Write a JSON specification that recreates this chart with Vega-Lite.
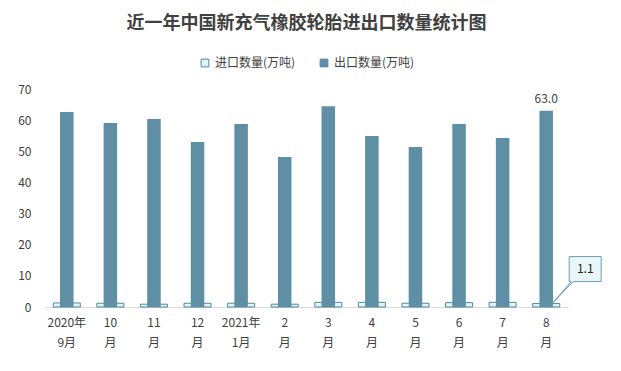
{
  "$schema": "https://vega.github.io/schema/vega-lite/v6.json",
  "width": 523,
  "height": 218,
  "autosize": {"type": "none"},
  "padding": {"left": 45, "top": 89, "right": 53, "bottom": 64},
  "background": "#ffffff",
  "title": {
    "text": "近一年中国新充气橡胶轮胎进出口数量统计图",
    "fontSize": 18,
    "font": "Noto Sans CJK SC",
    "fontWeight": "bold",
    "color": "#404040",
    "anchor": "middle",
    "offset": 24
  },
  "config": {
    "view": {"stroke": null},
    "font": "Noto Sans CJK SC",
    "axisY": {
      "title": null,
      "values": [0, 10, 20, 30, 40, 50, 60, 70],
      "labelOverlap": false,
      "grid": false,
      "domain": false,
      "ticks": false,
      "labelFontSize": 12,
      "labelColor": "#404040",
      "labelPadding": 14
    },
    "legend": {
      "layout": {"top": {"anchor": "middle"}}
    }
  },
  "data": {
    "values": [
      {"month": "2020年|9月", "import": 1.3, "export": 62.6},
      {"month": "10|月", "import": 1.2, "export": 59.1},
      {"month": "11|月", "import": 0.9, "export": 60.4},
      {"month": "12|月", "import": 1.2, "export": 53.0},
      {"month": "2021年|1月", "import": 1.2, "export": 58.8},
      {"month": "2|月", "import": 0.9, "export": 48.2},
      {"month": "3|月", "import": 1.5, "export": 64.5},
      {"month": "4|月", "import": 1.5, "export": 54.9},
      {"month": "5|月", "import": 1.2, "export": 51.4},
      {"month": "6|月", "import": 1.4, "export": 58.8},
      {"month": "7|月", "import": 1.5, "export": 54.3},
      {"month": "8|月", "import": 1.1, "export": 63.0}
    ]
  },
  "encoding": {
    "x": {
      "field": "month",
      "type": "nominal",
      "sort": null,
      "scale": {"paddingInner": 0, "paddingOuter": 0},
      "axis": {
        "title": null,
        "labelAngle": 0,
        "labelExpr": "split(datum.label, '|')",
        "labelFontSize": 12,
        "labelColor": "#404040",
        "labelLineHeight": 20,
        "labelPadding": 10,
        "ticks": false,
        "domainColor": "#d9d9d9",
        "domainWidth": 1
      }
    }
  },
  "layer": [
    {
      "mark": {"type": "bar", "width": {"band": 0.62}, "stroke": "#4f8aa0", "strokeWidth": 1},
      "encoding": {
        "y": {
          "field": "import",
          "type": "quantitative",
          "scale": {"domain": [0, 70], "nice": false},
          "axis": {"values": [0, 10, 20, 30, 40, 50, 60, 70], "labelOverlap": false}
        },
        "color": {
          "datum": "进口数量(万吨)",
          "type": "nominal",
          "scale": {
            "domain": ["进口数量(万吨)", "出口数量(万吨)"],
            "range": ["#e2f4f8", "#5e8fa4"]
          },
          "legend": {
            "title": null,
            "orient": "top",
            "direction": "horizontal",
            "symbolType": "square",
            "symbolSize": 60,
            "symbolStrokeColor": "#4f8aa0",
            "symbolStrokeWidth": 1,
            "labelFontSize": 12,
            "labelColor": "#404040",
            "columnPadding": 22,
            "offset": 20
          }
        }
      }
    },
    {
      "mark": {"type": "bar", "width": {"band": 0.31}},
      "encoding": {
        "y": {"field": "export", "type": "quantitative", "axis": {"values": [0, 10, 20, 30, 40, 50, 60, 70], "labelOverlap": false}},
        "color": {"datum": "出口数量(万吨)", "type": "nominal"}
      }
    },
    {
      "transform": [{"filter": "datum.month == '8|月'"}],
      "mark": {"type": "text", "dy": -12, "fontSize": 12, "color": "#404040"},
      "encoding": {
        "y": {"field": "export", "type": "quantitative", "axis": {"values": [0, 10, 20, 30, 40, 50, 60, 70], "labelOverlap": false}},
        "text": {"field": "export", "type": "quantitative", "format": ".1f"}
      }
    },
    {
      "transform": [{"filter": "datum.month == '8|月'"}],
      "mark": {
        "type": "point",
        "filled": true,
        "size": 10000,
        "shape": "M0,0 L0.42,-0.44 L0.98,-0.44 L0.98,-0.94 L0.34,-0.94 L0.34,-0.44 L0.38,-0.44 Z",
        "fill": "#eaf6f8",
        "stroke": "#6b9fb2",
        "strokeWidth": 1,
        "opacity": 1,
        "xOffset": 6
      },
      "encoding": {
        "y": {"field": "import", "type": "quantitative", "axis": {"values": [0, 10, 20, 30, 40, 50, 60, 70], "labelOverlap": false}}
      }
    },
    {
      "transform": [{"filter": "datum.month == '8|月'"}],
      "mark": {"type": "text", "dx": 39, "dy": -35, "fontSize": 12, "color": "#222222"},
      "encoding": {
        "y": {"field": "import", "type": "quantitative", "axis": {"values": [0, 10, 20, 30, 40, 50, 60, 70], "labelOverlap": false}},
        "text": {"field": "import", "type": "quantitative", "format": ".1f"}
      }
    }
  ]
}
